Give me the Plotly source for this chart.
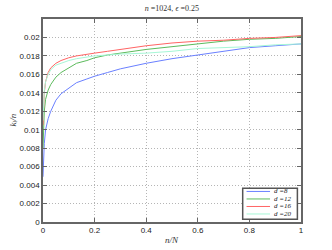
import plotly.graph_objects as go

x = [0, 0.005, 0.01, 0.02, 0.03, 0.05, 0.07, 0.1, 0.13, 0.17, 0.2, 0.25, 0.3, 0.4, 0.5, 0.6, 0.7, 0.8, 0.9, 1.0]
d8 = [0.0049, 0.0085, 0.0100, 0.0112, 0.0120, 0.0132, 0.0139, 0.0145, 0.0151, 0.0155, 0.0158, 0.0162, 0.0166, 0.0172, 0.0177, 0.0181, 0.0185, 0.0189, 0.0191, 0.0193]
d12 = [0.0080, 0.0120, 0.0133, 0.0143, 0.0149, 0.0157, 0.0162, 0.0167, 0.0172, 0.0175, 0.0178, 0.0181, 0.0183, 0.0187, 0.0190, 0.0193, 0.0196, 0.0198, 0.0199, 0.0201]
d16 = [0.0105, 0.0140, 0.0152, 0.0162, 0.0167, 0.0172, 0.0175, 0.0178, 0.0180, 0.0182, 0.0183, 0.0185, 0.0187, 0.0191, 0.0194, 0.0196, 0.0197, 0.0199, 0.0200, 0.0202]
d20 = [0.0110, 0.0142, 0.0152, 0.0160, 0.0165, 0.0170, 0.0172, 0.0175, 0.0177, 0.0179, 0.0180, 0.0181, 0.0182, 0.0183, 0.0185, 0.0188, 0.0189, 0.0190, 0.0192, 0.0193]
labels = ["d =8", "d =12", "d =16", "d =20"]
series = [d8, d12, d16, d20]
colors = ["#6a80ff", "#5cbb5c", "#ff6464", "#a6f7d6"]
x_ticks = [0, 0.2, 0.4, 0.6, 0.8, 1]
x_ticktext = ["0", "0.2", "0.4", "0.6", "0.8", "1"]
y_ticks = [0, 0.002, 0.004, 0.006, 0.008, 0.01, 0.012, 0.014, 0.016, 0.018, 0.02]
y_ticktext = ["0", "0.002", "0.004", "0.006", "0.008", "0.01", "0.012", "0.014", "0.016", "0.018", "0.02"]

SERIF = "Liberation Serif, DejaVu Serif, serif"
SANS = "Liberation Sans, Arial, sans-serif"

fig = go.Figure()
for lab, ys, c in zip(labels, series, colors):
    fig.add_trace(go.Scatter(x=x, y=ys, mode="lines", name=lab,
                             line=dict(color=c, width=1), showlegend=False))

axis_common = dict(showline=True, mirror="ticks", linecolor="#666666", linewidth=1.5,
                   ticks="inside", ticklen=4, tickcolor="#666666",
                   showgrid=True, gridcolor="#b5b5b5", griddash="1px,2px", gridwidth=1,
                   zeroline=False, automargin=False,
                   tickfont=dict(family=SANS, size=8, color="#222222"))

fig.update_xaxes(range=[0, 1], tickvals=x_ticks, ticktext=x_ticktext, **axis_common)
fig.update_yaxes(range=[0, 0.022], tickvals=y_ticks, ticktext=y_ticktext, **axis_common)

# legend box drawn manually
lx0, lx1, ly0, ly1 = 0.774, 0.986, 0.013, 0.166
shapes = [dict(type="rect", xref="paper", yref="paper", x0=lx0, x1=lx1, y0=ly0, y1=ly1,
               line=dict(color="#555555", width=1.5), fillcolor="white", layer="above")]
annotations = [
    dict(xref="paper", yref="paper", x=0.5, y=-0.089, xanchor="center", yanchor="middle",
         text="<i>n/N</i>", showarrow=False, font=dict(family=SERIF, size=9, color="#333")),
    dict(xref="paper", yref="paper", x=-0.116, y=0.5, xanchor="center", yanchor="middle",
         text="<i>k<sub>l</sub>/n</i>", textangle=-90, showarrow=False,
         font=dict(family=SERIF, size=9, color="#333")),
]
row_y = [0.1505, 0.1135, 0.0765, 0.0395]
for lab, c, yy in zip(labels, colors, row_y):
    shapes.append(dict(type="line", xref="paper", yref="paper", x0=0.789, x1=0.880, y0=yy, y1=yy,
                       line=dict(color=c, width=1), layer="above"))
    annotations.append(dict(xref="paper", yref="paper", x=0.886, y=yy, xanchor="left", yanchor="middle",
                            text="<i>" + lab + "</i>", showarrow=False,
                            font=dict(family=SERIF, size=7, color="#222")))

fig.update_layout(
    width=332, height=250,
    margin=dict(l=43, r=31, t=19, b=28),
    paper_bgcolor="white", plot_bgcolor="white",
    title=dict(text="<i>n</i> =1024, <i>ϵ</i> =0.25", x=0.5, xref="paper", y=0.966, yanchor="middle",
               font=dict(family=SERIF, size=8, color="#333")),
    shapes=shapes, annotations=annotations,
)

fig.write_html("out.html", config={"displayModeBar": False},
               post_script="document.body.style.margin='0';document.body.style.overflow='hidden';")
